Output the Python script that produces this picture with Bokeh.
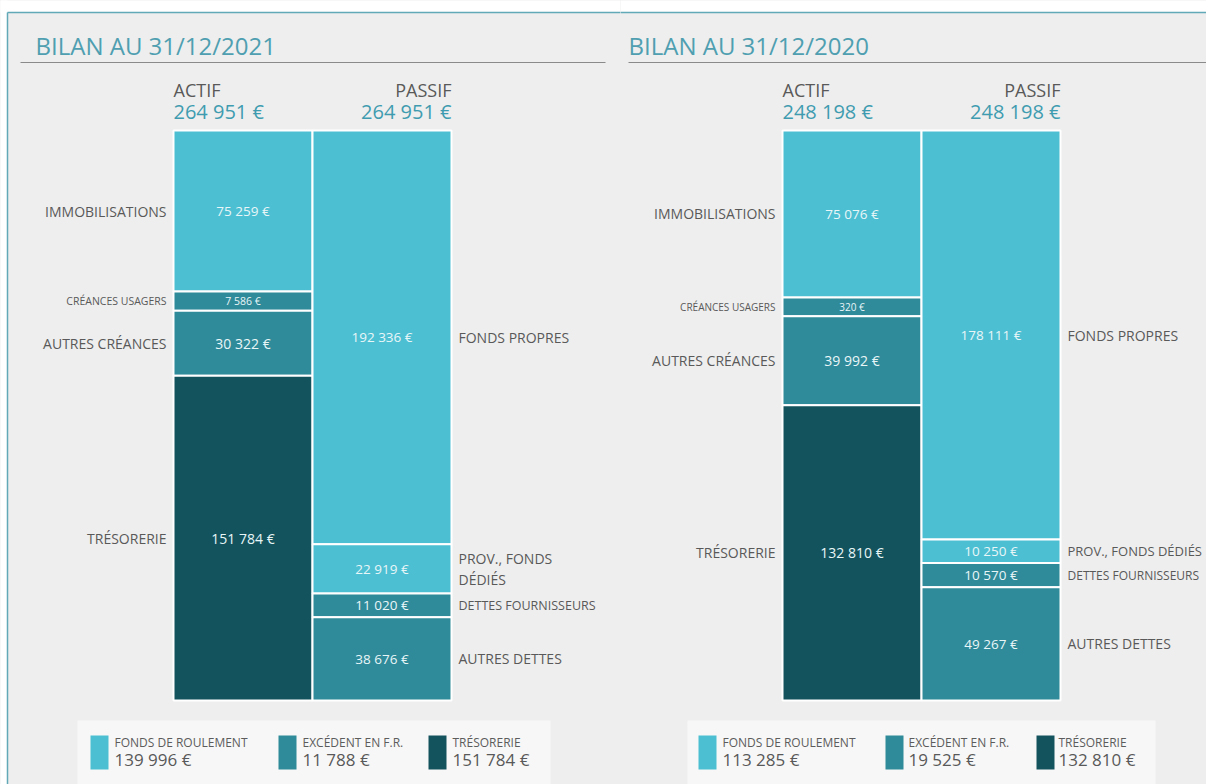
from bokeh.plotting import figure
from bokeh.layouts import row
from bokeh.models import Range1d, ColumnDataSource
from bokeh.core.properties import value
from bokeh.embed import file_html
from bokeh.resources import INLINE

# ---------------- data ----------------
titles = ["BILAN AU 31/12/2021", "BILAN AU 31/12/2020"]
actif_labels = ["IMMOBILISATIONS", "CRÉANCES USAGERS", "AUTRES CRÉANCES", "TRÉSORERIE"]
actif_2021 = [75259, 7586, 30322, 151784]
actif_2020 = [75076, 320, 39992, 132810]
passif_labels_2021 = ["FONDS PROPRES", "PROV., FONDS\nDÉDIÉS", "DETTES FOURNISSEURS", "AUTRES DETTES"]
passif_labels_2020 = ["FONDS PROPRES", "PROV., FONDS DÉDIÉS", "DETTES FOURNISSEURS", "AUTRES DETTES"]
passif_2021 = [192336, 22919, 11020, 38676]
passif_2020 = [178111, 10250, 10570, 49267]
legend_labels = ["FONDS DE ROULEMENT", "EXCÉDENT EN F.R.", "TRÉSORERIE"]
legend_2021 = [139996, 11788, 151784]
legend_2020 = [113285, 19525, 132810]

# ---------------- styles ----------------
FONT = value("Open Sans")
LIGHT, MID, DARK = "#4cbfd2", "#2f8a99", "#12535d"
actif_colors = [LIGHT, MID, MID, DARK]
passif_colors = [LIGHT, LIGHT, MID, MID]
legend_colors = [LIGHT, MID, DARK]
GREY_TXT = "#595959"
TEAL_TXT = "#3f9cb0"
BG = "#eeeeee"

def fmt(v):
    return f"{v:,}".replace(",", " ") + " €"

def display_sizes(vals, total, mn=0.034):
    d = [max(v, mn * total) for v in vals]
    s = sum(d)
    return [x * total / s for x in d]

BW = 139.0
BAR_TOP, BAR_BOT = 130.0, 700.0
FIG_H = 784

panels = [
    dict(title=titles[0], actif=actif_2021, passif=passif_2021, plabels=passif_labels_2021,
         legend=legend_2021, fig_x0=0, fig_w=620, bar_x0=173, title_x=35, ul=(20, 605),
         box=(77, 550), sq=[90, 278, 428], lt=[114, 302, 452], lab_r=166, lab_l=458,
         a_lsize=["14px", "10.5px", "14px", "14px"], p_lsize=["14px", "14px", "12.5px", "14px"],
         a_vsize=["13.5px", "10.5px", "14px", "14px"], p_vsize=["13.5px", "13.5px", "13.5px", "13.5px"],
         left_border=True),
    dict(title=titles[1], actif=actif_2020, passif=passif_2020, plabels=passif_labels_2020,
         legend=legend_2020, fig_x0=620, fig_w=586, bar_x0=782, title_x=628, ul=(628, 1206),
         box=(687, 1155), sq=[698, 885, 1036], lt=[722, 908, 1058], lab_r=775, lab_l=1067,
         a_lsize=["14px", "10px", "14px", "14px"], p_lsize=["14px", "13px", "12px", "14px"],
         a_vsize=["13.5px", "10px", "14px", "14px"], p_vsize=["13.5px", "13.5px", "13.5px", "13.5px"],
         left_border=False),
]


def make_panel(c):
    T = float(sum(c["actif"]))
    x0, w = c["fig_x0"], c["fig_w"]

    def X(px):
        return (px - c["bar_x0"]) / BW

    def Y(py):
        return (py - BAR_TOP) / (BAR_BOT - BAR_TOP) * T

    p = figure(width=w, height=FIG_H,
               x_range=Range1d(X(x0), X(x0 + w)), y_range=Range1d(Y(FIG_H), Y(0)),
               min_border=0, toolbar_location=None, output_backend="svg",
               x_axis_location=None, y_axis_location=None,
               background_fill_color=BG, border_fill_color=BG,
               outline_line_color=None, styles={"background-color": BG})
    p.grid.visible = False

    # white strip above the frame / left of border
    p.quad(left=[X(x0 - 3)], right=[X(x0 + w + 3)], top=[Y(-3)], bottom=[Y(12)],
           fill_color="white", line_color=None)
    if c["left_border"]:
        p.quad(left=[X(x0 - 3)], right=[X(x0 + 7)], top=[Y(-3)], bottom=[Y(FIG_H + 3)],
               fill_color="white", line_color=None)
    gx0 = x0 + 7 if c["left_border"] else x0 - 3
    p.segment(x0=[X(gx0)], y0=[Y(12)], x1=[X(x0 + w + 3)], y1=[Y(12)],
              line_color="#62a9b8", line_width=1.5)
    if c["left_border"]:
        p.segment(x0=[X(gx0)], y0=[Y(12)], x1=[X(gx0)], y1=[Y(FIG_H + 3)],
                  line_color="#62a9b8", line_width=1.5)

    # title + underline
    p.text(x=[X(c["title_x"])], y=[Y(45)], text=[c["title"]], text_font=FONT,
           text_font_size="24px", text_color="#4f9fb1", text_align="left",
           text_baseline="middle")
    p.segment(x0=[X(c["ul"][0])], y0=[Y(62)], x1=[X(c["ul"][1])], y1=[Y(62)],
              line_color="#8a8a8a", line_width=1.2)

    # headers
    tot_a, tot_p = sum(c["actif"]), sum(c["passif"])
    p.text(x=[0, 2], y=[Y(89), Y(89)], text=["ACTIF", "PASSIF"], text_font=FONT,
           text_font_size="18px", text_color=GREY_TXT, text_align=["left", "right"],
           text_baseline="middle")
    p.text(x=[0, 2], y=[Y(111), Y(111)], text=[fmt(tot_a), fmt(tot_p)], text_font=FONT,
           text_font_size="20px", text_color=TEAL_TXT, text_align=["left", "right"],
           text_baseline="middle")

    # bars
    for col, vals, labels, colors, lsize, vsize in [
        (0, c["actif"], actif_labels, actif_colors, c["a_lsize"], c["a_vsize"]),
        (1, c["passif"], c["plabels"], passif_colors, c["p_lsize"], c["p_vsize"]),
    ]:
        d = display_sizes(vals, T)
        tops, bots = [], []
        acc = 0.0
        for v in d:
            tops.append(acc)
            acc += v
            bots.append(acc)
        mids = [(a + b) / 2 for a, b in zip(tops, bots)]
        src = ColumnDataSource(dict(left=[col] * 4, right=[col + 1] * 4, top=tops, bottom=bots,
                                    color=colors, mid=mids, xc=[col + 0.5] * 4,
                                    vtxt=[fmt(v) for v in vals], vsize=vsize,
                                    lab=labels, lsize=lsize))
        p.quad(left="left", right="right", top="top", bottom="bottom", fill_color="color",
               line_color="white", line_width=2, source=src)
        p.text(x="xc", y="mid", text="vtxt", text_font=FONT, text_font_size="vsize",
               text_color="#e9f6f8", text_align="center", text_baseline="middle", source=src)
        if col == 0:
            p.text(x=X(c["lab_r"]), y="mid", text="lab", text_font=FONT,
                   text_font_size="lsize", text_color=GREY_TXT, text_align="right",
                   text_baseline="middle", source=src)
        else:
            p.text(x=X(c["lab_l"]), y="mid", text="lab", text_font=FONT,
                   text_font_size="lsize", text_color=GREY_TXT, text_align="left",
                   text_baseline="middle", text_line_height=1.1, source=src)

    # legend
    bl, br = c["box"]
    p.quad(left=[X(bl)], right=[X(br)], top=[Y(720)], bottom=[Y(FIG_H + 3)],
           fill_color="#f7f7f7", line_color=None)
    p.quad(left=[X(s) for s in c["sq"]], right=[X(s + 18) for s in c["sq"]],
           top=[Y(735)] * 3, bottom=[Y(769)] * 3, fill_color=legend_colors, line_color=None)
    p.text(x=[X(t) for t in c["lt"]], y=[Y(742)] * 3, text=legend_labels, text_font=FONT,
           text_font_size="12px", text_color="#5c5c5c", text_align="left",
           text_baseline="middle")
    p.text(x=[X(t) for t in c["lt"]], y=[Y(759)] * 3, text=[fmt(v) for v in c["legend"]],
           text_font=FONT, text_font_size="17px", text_color=GREY_TXT, text_align="left",
           text_baseline="middle")
    return p


figs = [make_panel(c) for c in panels]
layout = row(*figs, spacing=0, styles={"background-color": BG})
open("out.html", "w").write(file_html(layout, INLINE))
